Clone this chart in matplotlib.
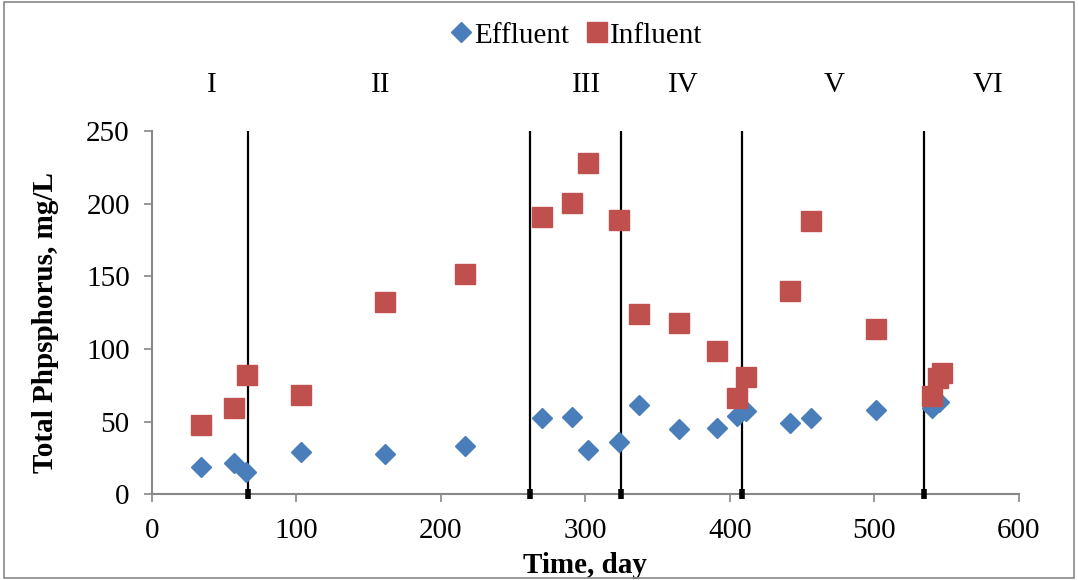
import matplotlib.pyplot as plt
from matplotlib.patches import Rectangle

plt.rcParams['font.family'] = ['Liberation Serif', 'DejaVu Serif']

# data
eff_day = [34, 57, 65, 103, 161, 217, 270, 291, 302, 323, 337, 365, 391, 405, 411, 442, 456, 501, 540, 545]
eff_tp = [18.6, 21.3, 15.2, 28.9, 27.5, 33, 52.3, 53, 30.3, 35.8, 61.3, 44.8, 45.5, 53.7, 57.2, 48.7, 52.6, 57.9, 59.5, 63.5]

inf_day = [34, 57, 66, 103, 161, 217, 270, 291, 302, 323, 337, 365, 391, 405, 411, 442, 456, 501, 540, 544, 547]
inf_tp = [47.5, 59.2, 82, 68.2, 132.2, 151.5, 190.8, 200.4, 228, 188.7, 124, 117.8, 98.5, 66, 80.6, 139.8, 188, 113.6, 67.5, 80, 83.3]

phase_bounds = [66.4, 261.6, 324.6, 408.3, 534.3]
phase_names = ['I', 'II', 'III', 'IV', 'V', 'VI']
phase_label_x = [41.5, 158, 301, 367.5, 472, 578.6]

fig = plt.figure(figsize=(10.78, 5.8), dpi=100)
ax = fig.add_axes([0.141, 0.148, 0.804, 0.626])

fig.patches.append(Rectangle((0.004, 0.004), 0.992, 0.992, transform=fig.transFigure,
                             fill=False, edgecolor='#888888', linewidth=1.2))

for b in phase_bounds:
    ax.plot([b, b], [0, 250], color='black', linewidth=1.6, zorder=1)
    ax.plot([b], [0], marker='|', color='black', markersize=7, markeredgewidth=4, zorder=5, clip_on=False)

ax.plot(eff_day, eff_tp, linestyle='none', marker='D', markersize=10.5, color='#4a7ebb',
        label='Effluent', zorder=3)
ax.plot(inf_day, inf_tp, linestyle='none', marker='s', markersize=14, color='#c0504d',
        label='Influent', zorder=4)

for name, x in zip(phase_names, phase_label_x):
    ax.text(x, 282, name, fontsize=21, ha='center', va='center', clip_on=False)

ax.set_xlim(0, 600)
ax.set_ylim(0, 250)
ax.set_xticks(range(0, 601, 100))
ax.set_yticks(range(0, 251, 50))
ax.tick_params(labelsize=21, color='#888888', direction='out', length=6, width=1.2)
ax.tick_params(axis='y', pad=10)
ax.tick_params(axis='x', pad=11)
for s in ['top', 'right']:
    ax.spines[s].set_visible(False)
for s in ['left', 'bottom']:
    ax.spines[s].set_color('#888888')
    ax.spines[s].set_linewidth(1.5)

ax.set_xlabel('Time, day', fontsize=21, fontweight='bold', labelpad=6)
ax.set_ylabel('Total Phpsphorus, mg/L', fontsize=21, fontweight='bold')
ax.yaxis.set_label_coords(-0.107, 0.472)

fig.legend(loc='upper center', bbox_to_anchor=(0.535, 0.997), ncol=2, frameon=False, fontsize=21,
           handlelength=0.7, handletextpad=0.1, columnspacing=0.6, borderaxespad=0.3)

fig.savefig('out.png', dpi=100)
